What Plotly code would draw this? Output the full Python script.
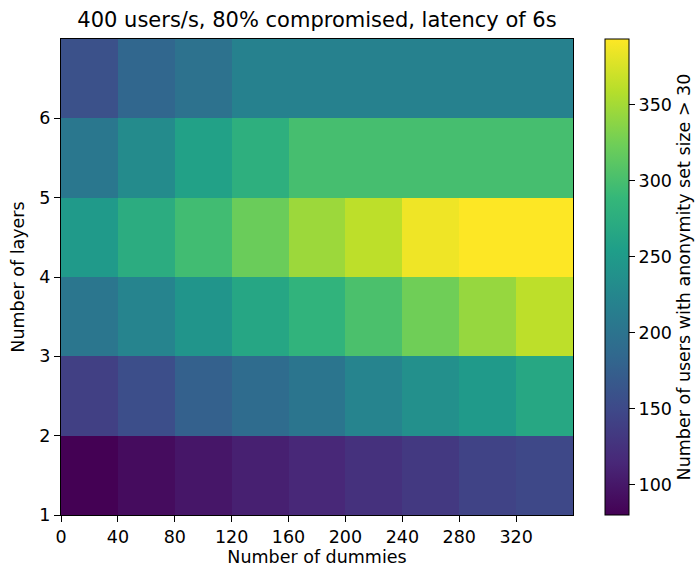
import plotly.graph_objects as go

# Bin edges
dummies_edges = [0, 40, 80, 120, 160, 200, 240, 280, 320, 360]
layer_edges = [1, 2, 3, 4, 5, 6, 7]

# Values (rows bottom-to-top: layers 1..6; columns: dummies bins)
layer1 = [80, 90, 99, 108, 115, 124, 133, 143, 148]
layer2 = [140, 155, 177, 190, 202, 221, 236, 249, 266]
layer3 = [203, 221, 243, 265, 283, 302, 324, 343, 362]
layer4 = [249, 274, 296, 321, 346, 362, 386, 393, 393]
layer5 = [205, 230, 258, 277, 299, 299, 299, 299, 299]
layer6 = [158, 183, 198, 218, 218, 218, 218, 218, 218]

x_ticks = [0, 40, 80, 120, 160, 200, 240, 280, 320]
y_ticks = [1, 2, 3, 4, 5, 6]
cb_ticks = [100, 150, 200, 250, 300, 350]

z = [layer1, layer2, layer3, layer4, layer5, layer6]

W, H = 699, 569
L, R, T, B = 61, 126, 39, 54
pw = W - L - R

FONT = "DejaVu Sans"
fs = 17.5

fig = go.Figure(go.Heatmap(
    x=dummies_edges, y=layer_edges, z=z,
    colorscale="Viridis",
    colorbar=dict(
        x=(605 - L) / pw, xanchor="left", xpad=0,
        y=0.5, yanchor="middle", len=1, lenmode="fraction", ypad=0,
        thickness=24, thicknessmode="pixels",
        outlinewidth=1, outlinecolor="black",
        tickvals=cb_ticks, ticks="outside", ticklen=6, tickcolor="black",
        tickfont=dict(family=FONT, size=fs, color="black"),
        title=dict(text="Number of users with anonymity set size > 30",
                   side="right", font=dict(family=FONT, size=fs, color="black")),
    ),
))

axis_common = dict(
    showline=True, linecolor="black", linewidth=1, mirror=True,
    ticks="outside", ticklen=6, tickcolor="black", tickwidth=1,
    showgrid=False, zeroline=False, automargin=False,
    tickfont=dict(family=FONT, size=fs, color="black"),
)

fig.update_xaxes(range=[0, 360], tickvals=x_ticks,
                 title=dict(text="Number of dummies", font=dict(family=FONT, size=fs, color="black"), standoff=1),
                 **axis_common)
fig.update_yaxes(range=[1, 7], tickvals=y_ticks,
                 title=dict(text="Number of layers", font=dict(family=FONT, size=fs, color="black"), standoff=10),
                 **axis_common)

fig.update_layout(
    width=W, height=H,
    margin=dict(l=L, r=R, t=T, b=B, pad=0, autoexpand=False),
    paper_bgcolor="white", plot_bgcolor="white",
    font=dict(family=FONT, color="black"),
    title=dict(text="400 users/s, 80% compromised, latency of 6s",
               x=0.5, xref="paper", xanchor="center",
               y=1 - 20 / H, yref="container", yanchor="middle",
               font=dict(family=FONT, size=21, color="black")),
)

fig.write_html("out.html")
